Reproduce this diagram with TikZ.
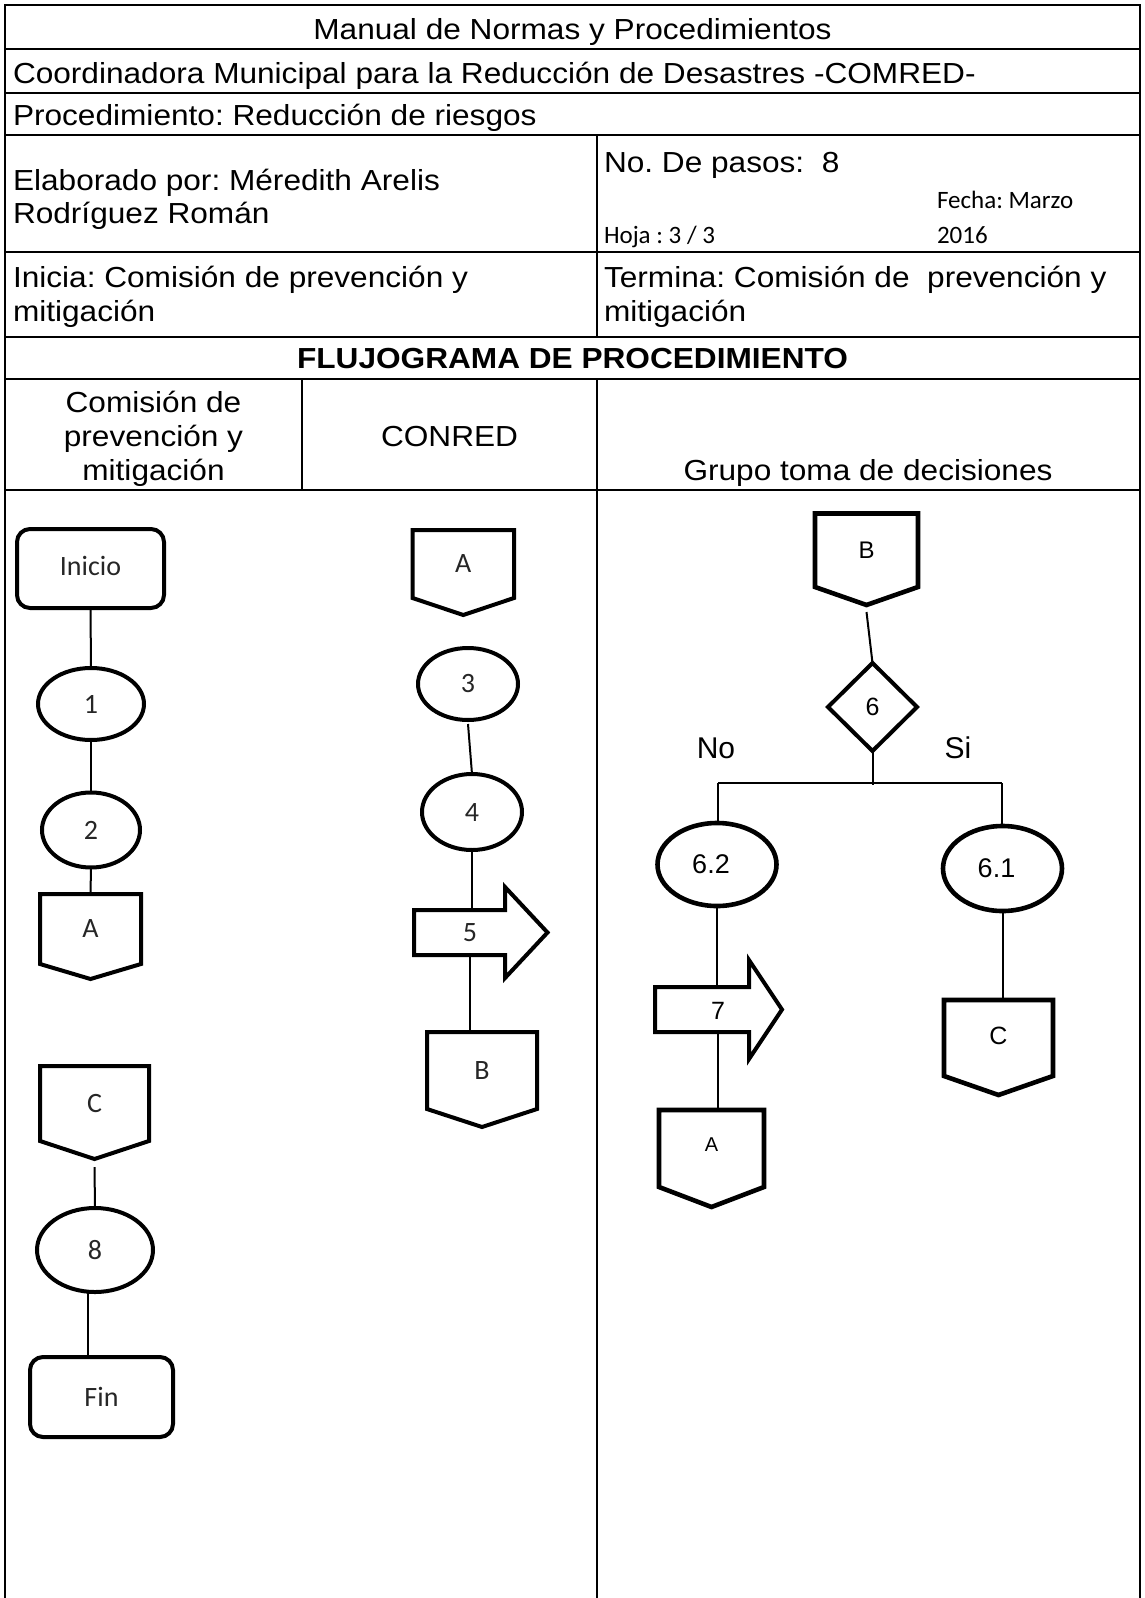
\documentclass[tikz,border=0pt]{standalone}
\usepackage{fontspec}
\setmainfont{Liberation Sans}
\newfontfamily\tabfont[FakeStretch=1.09]{Liberation Sans}
\newfontfamily\calfont{Carlito}
\usetikzlibrary{shapes.geometric,calc}
\frenchspacing
\newcommand\pentpath[2]{\draw[shp] (#1.north west) -- (#1.north east) -- (#1.south east) -- ([yshift=-#2pt]#1.south) -- (#1.south west) -- cycle;}
\newcommand\arrpath[3]{\draw[shp] (#1.north west) -- (#1.north east) -- ([yshift=#2pt]#1.north east) -- ([xshift=#3pt]#1.east) -- ([yshift=-#2pt]#1.south east) -- (#1.south east) -- (#1.south west) -- cycle;}
\begin{document}
\frenchspacing
\begin{tikzpicture}[x=1pt,y=-1pt,
  tbl/.style={line width=2.8pt,line cap=rect},
  shp/.style={line width=4pt,line join=miter},
  shpb/.style={line width=4.6pt,line join=miter},
  conn/.style={line width=2pt},
  ttxt/.style={font=\tabfont\fontsize{29}{33}\selectfont,inner sep=0pt,outer sep=0pt},
  ttxtb/.style={font=\tabfont\bfseries\fontsize{29}{33}\selectfont,inner sep=0pt,outer sep=0pt},
  stxt/.style={font=\calfont\fontsize{25}{28}\selectfont,inner sep=0pt,outer sep=0pt},
  ctxt/.style={font=\calfont\fontsize{28}{30}\selectfont,text=black!85},
  atxt/.style={font=\fontsize{25}{28}\selectfont},
  elp/.style={shp,draw,ellipse,inner sep=0pt,outer sep=0pt},
  elpb/.style={shpb,draw,ellipse,inner sep=0pt,outer sep=0pt},
  rbox/.style={shp,draw,rectangle,rounded corners=13pt,inner sep=0pt,outer sep=0pt},
  pbox/.style={rectangle,inner sep=0pt,outer sep=0pt},
]
\useasboundingbox (0,0) rectangle (1145,1598);
% table
\draw[tbl] (5,1598) -- (5,5) -- (1140,5) -- (1140,1598);
\foreach \yy in {49,93,135,252,337,379,490} \draw[tbl] (5,\yy) -- (1140,\yy);
\draw[tbl] (597,135) -- (597,337);
\draw[tbl] (597,379) -- (597,1598);
\draw[tbl] (302,379) -- (302,490);
% table texts
\node[ttxt,anchor=base] (h1) at (572.5,39) {Manual de Normas y Procedimientos};
\node[ttxt,anchor=base west] (h2) at (13,83) {Coordinadora Municipal para la Reducción de Desastres -COMRED-};
\node[ttxt,anchor=base west] (h3) at (13,125) {Procedimiento: Reducción de riesgos};
\node[ttxt,anchor=base west] (h4a) at (13,190) {Elaborado por: Méredith Arelis};
\node[ttxt,anchor=base west] (h4b) at (13,223) {Rodríguez Román};
\node[ttxt,anchor=base west] (h4c) at (604,172) {No. De pasos:\ \ 8};
\node[stxt,anchor=base west] (h4d) at (937,208) {Fecha: Marzo};
\node[stxt,anchor=base west] (h4e) at (604,243) {Hoja : 3 / 3};
\node[stxt,anchor=base west] (h4f) at (937,243) {2016};
\node[ttxt,anchor=base west] (h5a) at (13,287) {Inicia: Comisión de prevención y};
\node[ttxt,anchor=base west] (h5b) at (13,321) {mitigación};
\node[ttxt,anchor=base west] (h5c) at (604,287) {Termina: Comisión de\ \ prevención y};
\node[ttxt,anchor=base west] (h5d) at (604,321) {mitigación};
\node[ttxtb,anchor=base] (h6) at (572.5,368) {FLUJOGRAMA DE PROCEDIMIENTO};
\node[ttxt,anchor=base] (k1a) at (153.5,412) {Comisión de};
\node[ttxt,anchor=base] (k1b) at (153.5,446) {prevención y};
\node[ttxt,anchor=base] (k1c) at (153.5,480) {mitigación};
\node[ttxt,anchor=base] (k2) at (449.5,446) {CONRED};
\node[ttxt,anchor=base] (k3) at (868,480) {Grupo toma de decisiones};
% left column
\node[rbox,minimum width=147,minimum height=79,ctxt] (ini) at (90.5,568.5) {\raisebox{5pt}{Inicio}};
\node[elp,minimum width=106,minimum height=72,ctxt] (e1) at (91,704) {1};
\node[elp,minimum width=98,minimum height=75,ctxt] (e2) at (91,830) {2};
\node[pbox,minimum width=101,minimum height=70,anchor=north west,ctxt] (a1) at (40,894) {A};
\pentpath{a1}{15}
\node[pbox,minimum width=109,minimum height=75,anchor=north west,ctxt] (c1) at (40,1066) {C};
\pentpath{c1}{18}
\node[elp,minimum width=116,minimum height=84,ctxt] (e8) at (95,1250) {8};
\node[rbox,minimum width=143,minimum height=80,ctxt] (fin) at (101.5,1397) {Fin};
% middle column
\node[pbox,minimum width=101.5,minimum height=68,anchor=north west,ctxt] (a2) at (412.5,530) {A};
\pentpath{a2}{17}
\node[elp,minimum width=100,minimum height=72,ctxt] (e3) at (468,684) {3};
\node[elp,minimum width=100,minimum height=76,ctxt] (e4) at (472,812) {4};
\node[pbox,minimum width=91,minimum height=45] (s5) at (459.5,932.5) {};
\arrpath{s5}{23}{42.5}
\node[ctxt,inner sep=0pt] (t5) at (470,933) {5};
\node[pbox,minimum width=110,minimum height=77,anchor=north west,ctxt] (b2) at (427,1032) {B};
\pentpath{b2}{18}
% right column
\node[pbox,minimum width=103,minimum height=73.5,anchor=north west,font=\fontsize{24}{26}\selectfont] (b3) at (815,513.5) {B};
\draw[shpb] (b3.north west) -- (b3.north east) -- (b3.south east) -- ([yshift=-18pt]b3.south) -- (b3.south west) -- cycle;
\node[shp,draw,diamond,minimum width=89,minimum height=88,inner sep=0pt,outer sep=0pt,atxt] (d6) at (872.5,707) {6};
\node[font=\fontsize{30}{32}\selectfont] (no) at (716,748) {No};
\node[font=\fontsize{30}{32}\selectfont] (si) at (958,748) {Si};
\node[elpb,minimum width=119,minimum height=83,font=\fontsize{27}{29}\selectfont] (e62) at (717,864.5) {\hspace*{-12pt}6.2};
\node[elpb,minimum width=119,minimum height=85,font=\fontsize{27}{29}\selectfont] (e61) at (1002.5,868.5) {\hspace*{-12pt}6.1};
\node[pbox,minimum width=109,minimum height=76,anchor=north west,atxt] (c3) at (944,1000) {\raisebox{4pt}{C}};
\draw[shpb] (c3.north west) -- (c3.north east) -- (c3.south east) -- ([yshift=-19pt]c3.south) -- (c3.south west) -- cycle;
\node[pbox,minimum width=94,minimum height=45] (s7) at (702,1009.5) {};
\arrpath{s7}{27}{33}
\node[atxt,inner sep=0pt] (t7) at (718,1011) {7};
\node[pbox,minimum width=105,minimum height=77,anchor=north west,font=\fontsize{20}{22}\selectfont] (a3) at (659,1110) {\raisebox{8pt}{A}};
\draw[shpb] (a3.north west) -- (a3.north east) -- (a3.south east) -- ([yshift=-20pt]a3.south) -- (a3.south west) -- cycle;
% connectors
\draw[conn] (ini.south) -- (e1.north);
\draw[conn] (e1.south) -- (e2.north);
\draw[conn] (e2.south) -- (a1.north);
\draw[conn] ([yshift=-26pt]c1.south) -- (e8.north);
\draw[conn] (e8.south) ++(-7,0) coordinate (e8b) -- (e8b |- fin.north);
\draw[conn] ([yshift=-4pt]e3.south) -- (e4.north);
\draw[conn] (e4.south) -- (e4.south |- s5.north);
\draw[conn] (t5 |- s5.south) -- (t5 |- b2.north);
\draw[conn] ([yshift=-25pt]b3.south) -- (d6.north);
\coordinate (jn) at (872.5,785);
\coordinate (jl) at (718,783);
\coordinate (jr) at (1002,783);
\draw[conn] (d6.south) -- (jn);
\draw[line width=1.6pt] (jl) -- (jr);
\draw[conn] (jl) -- (jl |- e62.north);
\draw[conn] (jr) -- (jr |- e61.north);
\draw[conn] (e61.south) -- (e61.south |- c3.north);
\draw[conn] (e62.south) -- (e62.south |- s7.north);
\draw[conn] (t7 |- s7.south) -- (t7 |- a3.north);
\end{tikzpicture}
\end{document}
